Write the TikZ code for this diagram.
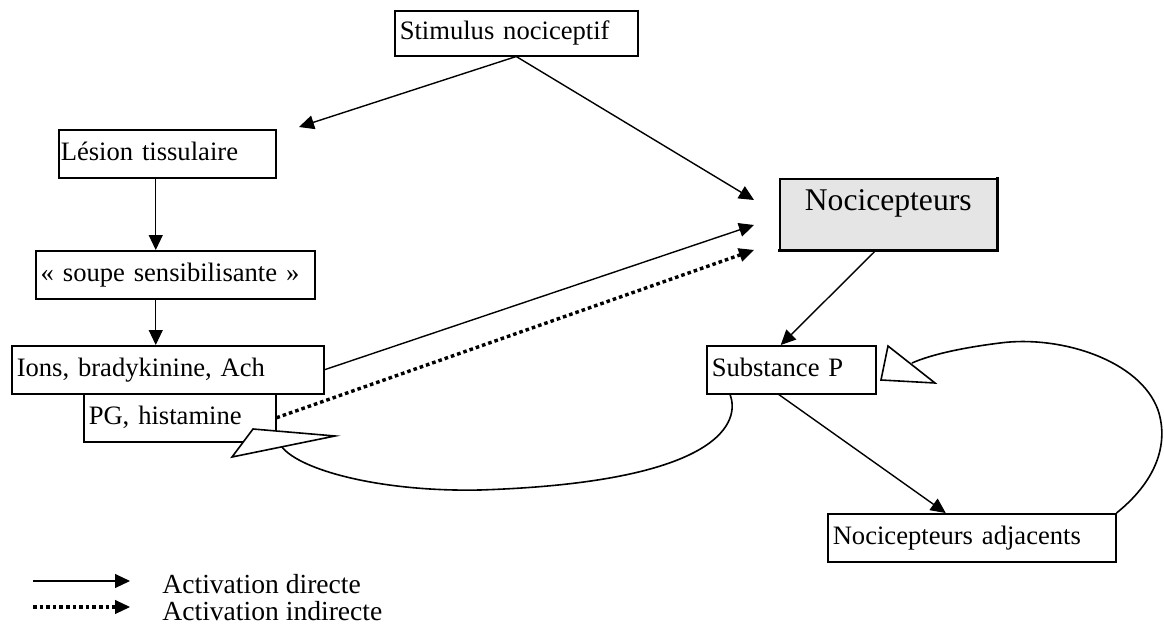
\documentclass[tikz,border=0pt]{standalone}
\usepackage{fontspec}
\setmainfont{Liberation Serif}
\usetikzlibrary{arrows.meta,calc}
\begin{document}
\begin{tikzpicture}[x=0.5pt,y=-0.5pt,
  every node/.style={font=\fontsize{13.3}{16}\selectfont},
  box/.style={draw, line width=0.75pt, anchor=north west, inner xsep=2.5pt,
    inner ysep=0pt, text height=9.3pt, text depth=2.9pt, align=left,
    minimum height=24pt},
  tip/.style={-{Triangle[length=7.5pt,width=7pt,line width=0.5pt]}},
  link/.style={line width=0.7pt, tip},
  indirect/.style={line width=1.7pt, dash pattern=on 1.8pt off 1.5pt, tip},
  loop/.style={line width=0.8pt},
  openhead/.style={draw, line width=0.8pt, fill=white, line join=miter},
  legendtext/.style={anchor=base west, inner sep=0pt, font=\fontsize{13.8}{16}\selectfont}
]
\useasboundingbox (0,0) rectangle (1164,632);

% boxes
\node[box, text width=116.5pt, minimum height=22.5pt] (stim) at (394,10) {\mbox{Stimulus nociceptif}};
\node[box, inner xsep=1pt, text width=106.5pt] (lesion) at (58,129) {\mbox{Lésion tissulaire}};
\node[box, text width=134.5pt] (soupe) at (35,250) {\mbox{« soupe sensibilisante »}};
\node[box, text width=151pt] (ions) at (11,345) {\mbox{Ions, bradykinine, Ach}};
\node[box, text width=91pt] (pg) at (83,393) {\mbox{PG, histamine}};
\node[box, fill=black!10, align=center, text width=103.5pt, minimum height=35.5pt,
  font=\fontsize{15.8}{19}\selectfont, text height=11.1pt, text depth=14.5pt] (noc) at (779,178) {Nocicepteurs};
% heavier lower and right edges of the receptor box
\draw[line width=1.1pt, line cap=rect] (noc.south west) -- (noc.south east) -- (noc.north east);
\node[box, text width=79.5pt] (subp) at (706,345) {\mbox{Substance P}};
\node[box, text width=139pt] (adj) at (827,513) {\mbox{Nocicepteurs adjacents}};

% free arrow ends
\coordinate (lesIn) at (299,127);
\coordinate (nocInA) at (754,200);
\coordinate (nocInB) at (754,225);
\coordinate (nocInC) at (754,250);

% direct and indirect activations
\draw[link] (stim.south) -- (lesIn);
\draw[link] (stim.south) -- (nocInA);
\draw[link] ([xshift=-5.75pt]lesion.south) -- ([xshift=-5.75pt]lesion.south |- soupe.north);
\draw[link] ([xshift=-5.75pt]lesion.south |- soupe.south) -- ([xshift=-5.75pt]lesion.south |- ions.north);
\draw[link] (ions.east) -- (nocInB);
\draw[indirect] (pg.east) -- (nocInC);
\draw[link] ([xshift=-6.25pt]noc.south) -- ([xshift=-5.25pt]subp.north);
\draw[link] ([xshift=-6.25pt]subp.south) -- ([xshift=-13pt]adj.north);

% feedback loops with open heads
\coordinate (loopL) at (282,447);
\coordinate (loopR) at (912,363);
\draw[loop] ([xshift=12pt]subp.south west) .. controls (740,420) and (725,482) .. (480,490)
  .. controls (380,492) and (300,470) .. (loopL);
\draw[openhead] (253,429) -- (335,436) -- (232,457) -- cycle;
\draw[loop] (adj.north east) .. controls (1160,478) and (1168,440) .. (1158,410)
  .. controls (1140,360) and (1060,335) .. (1000,343)
  .. controls (960,348) and (930,355) .. (loopR);
\draw[openhead] (888,346) -- (881,380) -- (935,383) -- cycle;

% legend
\coordinate (legA1) at (33,581);
\coordinate (legA2) at (130,581);
\coordinate (legB1) at (33,607);
\coordinate (legB2) at (130,607);
\draw[link] (legA1) -- (legA2);
\draw[indirect] (legB1) -- (legB2);
\node[legendtext] (legA) at (162,593) {Activation directe};
\node[legendtext] (legB) at (162,620) {Activation indirecte};
\end{tikzpicture}
\end{document}
